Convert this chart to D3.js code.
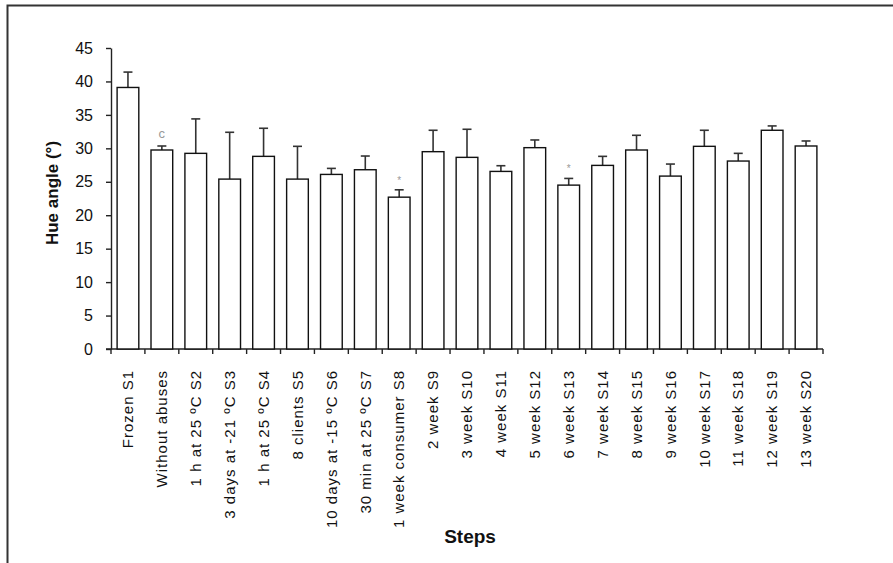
<!DOCTYPE html>
<html lang="en">
<head>
	<meta charset="utf-8">
	<title>Hue angle by step</title>
	<script src="https://d3js.org/d3.v7.min.js"></script>
	<style type="text/css">
		body { margin: 0; background: #fff; }
		.axis path,
		.axis line {
			fill: none;
			stroke: #222;
			stroke-width: 1.4px;
		}
		.axis text {
			font-family: "Liberation Sans", Arial, sans-serif;
			font-size: 16px;
			fill: #111;
		}
	</style>
</head>
<body>
	<script type="text/javascript">

		// Categories (steps) along the x axis
		var categories = ["Frozen S1", "Without abuses", "1 h at 25 \u00baC S2", "3 days at -21 \u00baC S3",
			"1 h at 25 \u00baC S4", "8 clients S5", "10 days at -15 \u00baC S6", "30 min at 25 \u00baC S7",
			"1 week consumer S8", "2 week S9", "3 week S10", "4 week S11", "5 week S12", "6 week S13",
			"7 week S14", "8 week S15", "9 week S16", "10 week S17", "11 week S18", "12 week S19", "13 week S20"];

		// Mean hue angle per step
		var means = [39.1, 29.75, 29.25, 25.4, 28.8, 25.4, 26.1, 26.8, 22.7, 29.5, 28.65,
			26.55, 30.1, 24.5, 27.45, 29.75, 25.85, 30.3, 28.1, 32.7, 30.35];

		// Upper error (standard deviation) per step
		var errors = [2.3, 0.6, 5.15, 7.0, 4.2, 4.9, 0.9, 2.05, 1.1, 3.2, 4.2,
			0.85, 1.15, 1.0, 1.35, 2.2, 1.8, 2.4, 1.15, 0.65, 0.75];

		// Significance marks above some bars
		var notes = ["", "c", "", "", "", "", "", "", "*", "", "",
			"", "", "*", "", "", "", "", "", "", ""];

		// Y axis tick values
		var yTicks = [0, 5, 10, 15, 20, 25, 30, 35, 40, 45];

		var width = 893, height = 563;
		var plot = {left: 111, right: 823, top: 48, bottom: 349};

		var svg = d3.select("body")
					.append("svg")
					.attr("width", width)
					.attr("height", height);

		// Frame around the chart area
		svg.append("rect")
			.attr("x", 7.5)
			.attr("y", 5.5)
			.attr("width", 1000)
			.attr("height", 1000)
			.attr("fill", "none")
			.attr("stroke", "#333")
			.attr("stroke-width", 2);

		var xScale = d3.scaleBand()
					.domain(categories)
					.range([plot.left, plot.right])
					.paddingInner(0.36)
					.paddingOuter(0.18);

		var yScale = d3.scaleLinear()
					.domain([0, 45])
					.range([plot.bottom, plot.top]);

		// Y axis
		var yAxis = d3.axisLeft(yScale)
					.tickValues(yTicks)
					.tickSize(5)
					.tickSizeOuter(0)
					.tickPadding(13);

		svg.append("g")
			.attr("class", "axis")
			.attr("transform", "translate(" + plot.left + ",0)")
			.call(yAxis);

		// X axis line with ticks at the category boundaries
		var step = xScale.step();
		var xg = svg.append("g").attr("class", "axis");
		xg.append("line")
			.attr("x1", plot.left - 5)
			.attr("x2", plot.right)
			.attr("y1", plot.bottom)
			.attr("y2", plot.bottom);
		xg.selectAll("line.tick")
			.data(d3.range(categories.length + 1))
			.enter()
			.append("line")
			.attr("class", "tick")
			.attr("x1", function(i) { return plot.left + i * step; })
			.attr("x2", function(i) { return plot.left + i * step; })
			.attr("y1", plot.bottom)
			.attr("y2", plot.bottom + 5);

		// Rotated category labels
		svg.selectAll("text.xlabel")
			.data(categories)
			.enter()
			.append("text")
			.attr("class", "xlabel")
			.attr("transform", function(d) {
				return "translate(" + (xScale(d) + xScale.bandwidth() / 2) + "," + 370 + ") rotate(-90)";
			})
			.attr("dy", "0.35em")
			.attr("text-anchor", "end")
			.attr("font-family", "Liberation Sans, Arial, sans-serif")
			.attr("font-size", "15px")
			.attr("letter-spacing", "1px")
			.attr("fill", "#111")
			.text(function(d) { return d; });

		// Error bars (upper only)
		var errs = svg.append("g")
					.attr("stroke", "#333")
					.attr("stroke-width", 1.6);
		errs.selectAll("line.stem")
			.data(categories)
			.enter()
			.append("line")
			.attr("x1", function(d) { return xScale(d) + xScale.bandwidth() / 2; })
			.attr("x2", function(d) { return xScale(d) + xScale.bandwidth() / 2; })
			.attr("y1", function(d, i) { return yScale(means[i]); })
			.attr("y2", function(d, i) { return yScale(means[i] + errors[i]); });
		errs.selectAll("line.cap")
			.data(categories)
			.enter()
			.append("line")
			.attr("x1", function(d) { return xScale(d) + xScale.bandwidth() / 2 - 4.5; })
			.attr("x2", function(d) { return xScale(d) + xScale.bandwidth() / 2 + 4.5; })
			.attr("y1", function(d, i) { return yScale(means[i] + errors[i]); })
			.attr("y2", function(d, i) { return yScale(means[i] + errors[i]); });

		// Bars
		svg.selectAll("rect.bar")
			.data(categories)
			.enter()
			.append("rect")
			.attr("class", "bar")
			.attr("x", function(d) { return xScale(d); })
			.attr("y", function(d, i) { return yScale(means[i]); })
			.attr("width", xScale.bandwidth())
			.attr("height", function(d, i) { return yScale(0) - yScale(means[i]); })
			.attr("fill", "#fff")
			.attr("stroke", "#111")
			.attr("stroke-width", 1.4);

		// Significance notes
		svg.selectAll("text.note")
			.data(categories)
			.enter()
			.append("text")
			.attr("class", "note")
			.attr("x", function(d) { return xScale(d) + xScale.bandwidth() / 2; })
			.attr("y", function(d, i) { return yScale(means[i] + errors[i]) - (notes[i] == "*" ? 6 : 8); })
			.attr("text-anchor", "middle")
			.attr("font-family", "Liberation Sans, Arial, sans-serif")
			.attr("font-size", function(d, i) { return notes[i] == "*" ? "10px" : "13px"; })
			.attr("fill", "#999")
			.text(function(d, i) { return notes[i]; });

		// Axis titles
		svg.append("text")
			.attr("transform", "translate(52,193) rotate(-90)")
			.attr("dy", "0.35em")
			.attr("text-anchor", "middle")
			.attr("font-family", "Liberation Sans, Arial, sans-serif")
			.attr("font-size", "17px")
			.attr("font-weight", "bold")
			.attr("fill", "#111")
			.text("Hue angle (\u00b0)");

		svg.append("text")
			.attr("x", 470)
			.attr("y", 543)
			.attr("text-anchor", "middle")
			.attr("font-family", "Liberation Sans, Arial, sans-serif")
			.attr("font-size", "19px")
			.attr("font-weight", "bold")
			.attr("fill", "#111")
			.text("Steps");

	</script>
</body>
</html>
